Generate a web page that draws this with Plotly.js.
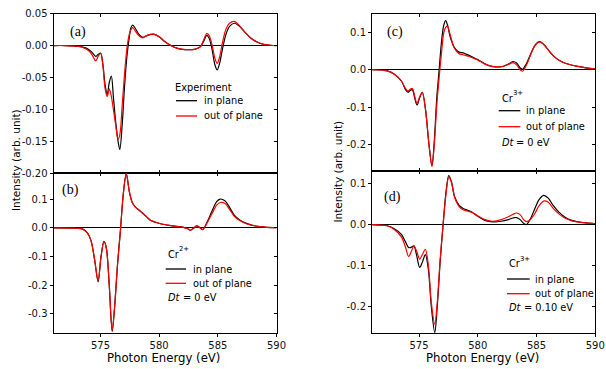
<!DOCTYPE html>
<html>
<head>
<meta charset="utf-8">
<script src="https://cdn.plot.ly/plotly-3.0.1.min.js"></script>
<style>html,body{margin:0;padding:0;background:#fff;}#chart{width:606px;height:369px;}</style>
</head>
<body>
<div id="chart"></div>
<script>
// ---------- data ----------
const xTicks = [575, 580, 585, 590];
const xTickText = ['575', '580', '585', '590'];

// (a) Experiment
const eA = [571, 572, 573, 573.5, 574, 574.3, 574.6, 574.8, 575.02, 575.2, 575.4, 575.58, 575.75, 575.93, 576.1, 576.3, 576.5, 576.65, 576.85, 577.05, 577.25, 577.45, 577.6, 577.75, 578.0, 578.3, 578.6, 579.0, 579.5, 580.0, 580.5, 581.0, 581.5, 582.0, 582.5, 583.0, 583.5, 583.8, 584.05, 584.25, 584.5, 584.75, 584.95, 585.15, 585.4, 585.7, 586.0, 586.4, 586.8, 587.3, 587.8, 588.3, 588.9, 589.5, 590];
const aIn  = [0, 0, -0.001, -0.0025, -0.006, -0.011, -0.017, -0.014, -0.012, -0.028, -0.062, -0.077, -0.058, -0.048, -0.08, -0.12, -0.15, -0.163, -0.125, -0.065, -0.018, 0.012, 0.028, 0.032, 0.026, 0.017, 0.013, 0.016, 0.018, 0.014, 0.006, 0.0, -0.004, -0.006, -0.0065, -0.006, -0.002, 0.007, 0.016, 0.012, -0.005, -0.03, -0.038, -0.028, -0.005, 0.018, 0.030, 0.035, 0.031, 0.021, 0.012, 0.006, 0.002, 0.0005, 0];
const aOut = [0, 0, -0.001, -0.003, -0.008, -0.015, -0.024, -0.017, -0.012, -0.03, -0.068, -0.08, -0.068, -0.08, -0.1, -0.125, -0.147, -0.14, -0.095, -0.045, -0.005, 0.017, 0.025, 0.028, 0.022, 0.015, 0.012, 0.016, 0.018, 0.014, 0.006, 0.0, -0.004, -0.006, -0.0065, -0.006, -0.002, 0.009, 0.019, 0.016, 0.002, -0.02, -0.028, -0.018, 0.005, 0.026, 0.035, 0.038, 0.032, 0.021, 0.012, 0.006, 0.002, 0.0005, 0];
const aYTicks = [0.05, 0, -0.05, -0.1, -0.15, -0.2];
const aYText  = ['0.05', '0.00', '-0.05', '-0.10', '-0.15', '-0.20'];

// (b) Cr2+, Dt = 0 eV
const eB = [571, 573, 573.5, 573.9, 574.2, 574.5, 574.8, 575.05, 575.3, 575.5, 575.75, 576.0, 576.2, 576.45, 576.7, 576.95, 577.2, 577.45, 577.7, 578.0, 578.3, 578.7, 579.0, 579.3, 579.7, 580.2, 581.0, 582.0, 582.4, 582.65, 582.9, 583.2, 583.45, 583.7, 583.9, 584.2, 584.6, 584.9, 585.2, 585.6, 586.0, 586.4, 586.9, 587.5, 588.2, 589.0, 590];
const bIn  = [0, -0.001, -0.004, -0.018, -0.045, -0.11, -0.188, -0.1, -0.047, -0.07, -0.2, -0.362, -0.28, -0.13, -0.01, 0.12, 0.19, 0.13, 0.09, 0.072, 0.062, 0.048, 0.036, 0.026, 0.02, 0.014, 0.008, 0.003, -0.002, -0.008, -0.002, 0.007, 0.002, -0.006, 0.005, 0.03, 0.068, 0.092, 0.101, 0.095, 0.072, 0.045, 0.027, 0.015, 0.007, 0.003, 0.001];
const bOut = [0, -0.001, -0.004, -0.018, -0.045, -0.11, -0.185, -0.1, -0.047, -0.07, -0.2, -0.358, -0.28, -0.13, -0.01, 0.12, 0.19, 0.13, 0.09, 0.072, 0.062, 0.048, 0.036, 0.026, 0.02, 0.014, 0.008, 0.003, -0.002, -0.008, -0.002, 0.007, 0.002, -0.006, 0.004, 0.026, 0.058, 0.08, 0.089, 0.086, 0.065, 0.041, 0.025, 0.014, 0.007, 0.003, 0.001];
const bYTicks = [0.1, 0, -0.1, -0.2, -0.3];
const bYText  = ['0.1', '0.0', '-0.1', '-0.2', '-0.3'];

// (c) Cr3+, Dt = 0 eV
const eC = [571, 572.3, 572.9, 573.5, 573.85, 574.06, 574.25, 574.43, 574.63, 574.83, 575.05, 575.28, 575.55, 575.85, 576.1, 576.3, 576.5, 576.7, 576.9, 577.1, 577.27, 577.42, 577.65, 578.0, 578.4, 578.75, 579.2, 579.6, 580.0, 580.6, 581.2, 582.0, 582.6, 583.0, 583.3, 583.6, 583.8, 584.1, 584.5, 584.9, 585.25, 585.6, 586.0, 586.5, 587.1, 587.8, 588.5, 589.2, 590];
const cIn  = [0, -0.003, -0.012, -0.03, -0.053, -0.06, -0.055, -0.053, -0.075, -0.094, -0.075, -0.06, -0.105, -0.2, -0.256, -0.19, -0.08, -0.005, 0.07, 0.118, 0.131, 0.12, 0.088, 0.06, 0.047, 0.045, 0.039, 0.033, 0.027, 0.016, 0.009, 0.008, 0.015, 0.022, 0.018, 0.005, 0.001, 0.014, 0.042, 0.067, 0.075, 0.068, 0.053, 0.035, 0.022, 0.014, 0.009, 0.005, 0.002];
const cOut = [0, -0.003, -0.012, -0.03, -0.05, -0.057, -0.052, -0.05, -0.07, -0.09, -0.073, -0.061, -0.105, -0.2, -0.258, -0.2, -0.1, -0.025, 0.04, 0.098, 0.113, 0.116, 0.094, 0.058, 0.043, 0.04, 0.036, 0.031, 0.026, 0.015, 0.009, 0.008, 0.014, 0.019, 0.013, 0.0, -0.004, 0.01, 0.04, 0.066, 0.074, 0.068, 0.053, 0.035, 0.022, 0.014, 0.009, 0.005, 0.002];
const cYTicks = [0.1, 0, -0.1, -0.2];
const cYText  = ['0.1', '0.0', '-0.1', '-0.2'];

// (d) Cr3+, Dt = 0.10 eV
const eD = [571, 572.3, 572.9, 573.5, 573.85, 574.12, 574.35, 574.57, 574.8, 575.06, 575.3, 575.54, 575.8, 576.05, 576.34, 576.55, 576.8, 577.05, 577.3, 577.53, 577.75, 578.04, 578.4, 578.75, 579.1, 579.46, 580.0, 580.6, 581.3, 582.0, 582.6, 583.0, 583.3, 583.6, 583.9, 584.15, 584.5, 584.86, 585.2, 585.6, 586.0, 586.4, 586.9, 587.4, 588.0, 588.55, 589.2, 590];
const dIn  = [0, -0.003, -0.01, -0.024, -0.042, -0.056, -0.055, -0.052, -0.075, -0.104, -0.09, -0.073, -0.11, -0.2, -0.262, -0.2, -0.09, 0.0, 0.08, 0.119, 0.105, 0.067, 0.047, 0.039, 0.035, 0.031, 0.02, 0.01, 0.0065, 0.008, 0.012, 0.016, 0.017, 0.012, 0.003, 0.0, 0.015, 0.039, 0.06, 0.071, 0.064, 0.047, 0.03, 0.0185, 0.01, 0.0065, 0.004, 0.002];
const dOut = [0, -0.003, -0.012, -0.03, -0.055, -0.078, -0.065, -0.052, -0.065, -0.084, -0.072, -0.06, -0.1, -0.19, -0.242, -0.19, -0.085, 0.0, 0.075, 0.115, 0.103, 0.065, 0.044, 0.036, 0.033, 0.03, 0.021, 0.012, 0.008, 0.012, 0.019, 0.025, 0.028, 0.024, 0.012, 0.007, 0.013, 0.027, 0.045, 0.057, 0.054, 0.04, 0.026, 0.016, 0.009, 0.006, 0.004, 0.002];
const dYTicks = [0.1, 0, -0.1, -0.2];
const dYText  = ['0.1', '0.0', '-0.1', '-0.2'];

const seriesNames = ['in plane', 'out of plane'];
const panelLabels = ['(a)', '(b)', '(c)', '(d)'];

// ---------- layout helpers ----------
const W = 606, H = 369;
const px = x => x / W;
const py = y => 1 - y / H;
const X_RANGE = [571, 590];
const yRanges = [[-0.2003, 0.0503], [-0.368, 0.191], [-0.27, 0.15], [-0.264, 0.13]];
const xDomL = [px(53.5), px(276.5)];
const xDomR = [px(372), px(595.3)];
const yDoms = [[py(173.3), py(13.5)], [py(333.3), py(173.3)], [py(171), py(13.5)], [py(333.3), py(171)]];
const xDoms = [xDomL, xDomL, xDomR, xDomR];
const yTickSets = [[aYTicks, aYText], [bYTicks, bYText], [cYTicks, cYText], [dYTicks, dYText]];
const isBottom = [false, true, false, true];

const FONT = 'DejaVu Sans, Verdana, sans-serif';
const tickFont = {family: FONT, size: 10, color: '#111'};
const BLACK = '#000000', RED = '#ff0000';

const panels = [[eA, aIn, aOut], [eB, bIn, bOut], [eC, cIn, cOut], [eD, dIn, dOut]];
const traces = [];
panels.forEach((p, i) => {
  const n = i + 1;
  const xa = 'x' + (n === 1 ? '' : n), ya = 'y' + (n === 1 ? '' : n);
  traces.push({x: p[0], y: p[1], xaxis: xa, yaxis: ya, type: 'scatter', mode: 'lines', name: seriesNames[0],
    line: {color: BLACK, width: 1.2, shape: 'spline', smoothing: 0.9}, showlegend: false, hoverinfo: 'skip'});
  traces.push({x: p[0], y: p[2], xaxis: xa, yaxis: ya, type: 'scatter', mode: 'lines', name: seriesNames[1],
    line: {color: RED, width: 1.2, shape: 'spline', smoothing: 0.9}, showlegend: false, hoverinfo: 'skip'});
  // helpers so overlay axes (inside ticks on top/right) get drawn
  traces.push({x: [], y: [], xaxis: xa, yaxis: 'y' + (n + 4), type: 'scatter', mode: 'lines', showlegend: false});
  if (isBottom[i]) traces.push({x: [], y: [], xaxis: 'x' + (n + 4), yaxis: ya, type: 'scatter', mode: 'lines', showlegend: false});
});

const layout = {
  width: W, height: H,
  margin: {l: 0, r: 0, t: 0, b: 0},
  paper_bgcolor: '#fff', plot_bgcolor: 'rgba(0,0,0,0)',
  showlegend: false,
  font: {family: FONT, color: '#000'},
  annotations: [], shapes: []
};

for (let i = 0; i < 4; i++) {
  const n = i + 1;
  const xk = 'xaxis' + (n === 1 ? '' : n), yk = 'yaxis' + (n === 1 ? '' : n);
  const xid = 'x' + (n === 1 ? '' : n), yid = 'y' + (n === 1 ? '' : n);
  layout[xk] = {
    domain: xDoms[i], anchor: yid, range: X_RANGE, tickmode: 'array', tickvals: xTicks, ticktext: xTickText,
    showline: true, linecolor: BLACK, linewidth: 1, mirror: isBottom[i] ? true : 'ticks',
    ticks: isBottom[i] ? 'outside' : 'inside', ticklen: 3, tickwidth: 1, tickcolor: BLACK,
    showticklabels: isBottom[i], tickfont: tickFont, showgrid: false, zeroline: false, fixedrange: true
  };
  layout[yk] = {
    domain: yDoms[i], anchor: xid, range: yRanges[i], tickmode: 'array', tickvals: yTickSets[i][0], ticktext: yTickSets[i][1],
    showline: true, linecolor: BLACK, linewidth: 1, mirror: true,
    ticks: 'outside', ticklen: 3, tickwidth: 1, tickcolor: BLACK,
    showticklabels: true, tickfont: tickFont, showgrid: false,
    zeroline: true, zerolinecolor: BLACK, zerolinewidth: 1, fixedrange: true
  };
  // right side inside ticks
  layout['yaxis' + (n + 4)] = {
    overlaying: yid, side: 'right', anchor: xid, range: yRanges[i], tickmode: 'array', tickvals: yTickSets[i][0],
    ticks: 'inside', ticklen: 3, tickwidth: 1, tickcolor: BLACK, showticklabels: false,
    showline: false, showgrid: false, zeroline: false, fixedrange: true
  };
  if (isBottom[i]) {
    // top side inside ticks
    layout['xaxis' + (n + 4)] = {
      overlaying: xid, side: 'top', anchor: yid, range: X_RANGE, tickmode: 'array', tickvals: xTicks,
      ticks: 'inside', ticklen: 3, tickwidth: 1, tickcolor: BLACK, showticklabels: false,
      showline: false, showgrid: false, zeroline: false, fixedrange: true
    };
  }
}

function text(t, x, y, opts) {
  layout.annotations.push(Object.assign({
    text: t, x: px(x), y: py(y), xref: 'paper', yref: 'paper', showarrow: false,
    xanchor: 'left', yanchor: 'middle', font: {family: FONT, size: 9.8, color: '#000'}
  }, opts || {}));
}
function legLine(x0, x1, y, color) {
  layout.shapes.push({type: 'line', xref: 'paper', yref: 'paper', x0: px(x0), x1: px(x1), y0: py(y), y1: py(y),
    line: {color: color, width: 1.3}});
}
const supFont = {family: FONT, size: 6.8, color: '#000'};
const itFont = {family: FONT, size: 9.8, color: '#000', style: 'italic'};
function ion(charge, x, y) {
  text('Cr', x, y + 1.5);
  text(charge, x + 11, y - 3.5, {font: supFont});
}
function dt(value, x, y) {
  text('Dt', x, y, {font: itFont});
  text('= ' + value + ' eV', x + 14.5, y);
}

// panel labels
const serif = {family: 'Liberation Serif, Times New Roman, serif', size: 14, color: '#000'};
text(panelLabels[0], 68, 32, {font: serif});
text(panelLabels[1], 59.5, 189.5, {font: serif});
text(panelLabels[2], 385, 32, {font: serif});
text(panelLabels[3], 382, 197, {font: serif});

// legend (a)
text('Experiment', 173, 88);
legLine(176, 197, 100.7, BLACK); text(seriesNames[0], 201.5, 100.5);
legLine(176, 197, 116, RED); text(seriesNames[1], 201.5, 116);
// legend (b)
ion('2+', 166, 252.5);
legLine(165.7, 186, 269, BLACK); text(seriesNames[0], 191, 269);
legLine(165.7, 186, 283.3, RED); text(seriesNames[1], 191, 283.3);
dt('0', 166, 297.5);
// legend (c)
ion('3+', 499.5, 96.5);
legLine(498.7, 520.3, 110.7, BLACK); text(seriesNames[0], 524, 110.7);
legLine(498.7, 520.3, 126.7, RED); text(seriesNames[1], 524, 126.7);
dt('0', 499.5, 142.5);
// legend (d)
ion('3+', 507, 262);
legLine(507, 529.7, 279, BLACK); text(seriesNames[0], 533, 279);
legLine(507, 529.7, 293.7, RED); text(seriesNames[1], 533, 293.7);
dt('0.10', 507, 307);

// axis titles
const titleFont = {family: FONT, size: 11.7, color: '#000'};
const yTitleFont = {family: FONT, size: 10.5, color: '#000'};
text('Photon Energy (eV)', 163, 358, {xanchor: 'center', font: titleFont});
text('Photon Energy (eV)', 482, 358, {xanchor: 'center', font: titleFont});
text('Intensity (arb. unit)', 16, 160, {xanchor: 'center', textangle: -90, font: yTitleFont});
text('Intensity (arb. unit)', 337.5, 172, {xanchor: 'center', textangle: -90, font: yTitleFont});

Plotly.newPlot('chart', traces, layout, {staticPlot: true, displayModeBar: false});
</script>
</body>
</html>
